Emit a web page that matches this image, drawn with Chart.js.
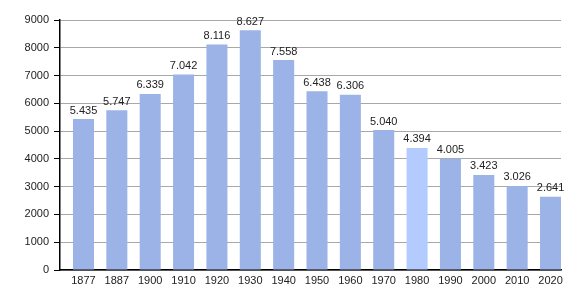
<!DOCTYPE html>
<html>
<head>
<meta charset="utf-8">
<script src="https://cdn.jsdelivr.net/npm/chart.js@4/dist/chart.umd.min.js"></script>
<style>
html,body{margin:0;padding:0;background:#fff;}
#wrap{width:580px;height:300px;position:relative;}
</style>
</head>
<body>
<div id="wrap"><canvas id="c" width="580" height="300"></canvas></div>
<script>
const years = ["1877","1887","1900","1910","1920","1930","1940","1950","1960","1970","1980","1990","2000","2010","2020"];
const population = [5435,5747,6339,7042,8116,8627,7558,6438,6306,5040,4394,4005,3423,3026,2641];
const valueLabels = ["5.435","5.747","6.339","7.042","8.116","8.627","7.558","6.438","6.306","5.040","4.394","4.005","3.423","3.026","2.641"];
const highlightYear = "1980";
const yTicks = [0,1000,2000,3000,4000,5000,6000,7000,8000,9000];

const barColor = "#9bb3e6";
const highlightColor = "#b3cbff";

const labelPlugin = {
  id: 'valueLabels',
  afterDatasetsDraw(chart) {
    const ctx = chart.ctx;
    const meta = chart.getDatasetMeta(0);
    ctx.save();
    ctx.font = '11px "Liberation Sans", Arial, sans-serif';
    ctx.fillStyle = '#222';
    ctx.textAlign = 'center';
    ctx.textBaseline = 'bottom';
    meta.data.forEach((bar, i) => {
      ctx.fillText(valueLabels[i], bar.x, bar.y - 3);
    });
    ctx.restore();
  }
};

const minorTickPlugin = {
  id: 'minorTicks',
  afterDraw(chart) {
    const y = chart.scales.y;
    const ctx = chart.ctx;
    const left = chart.chartArea.left;
    ctx.save();
    ctx.strokeStyle = '#000';
    ctx.lineWidth = 1;
    y.ticks.forEach(t => {
      if (!yTicks.includes(t.value)) {
        const py = Math.round(y.getPixelForValue(t.value)) + 0.5;
        ctx.beginPath();
        ctx.moveTo(left - 3, py);
        ctx.lineTo(left, py);
        ctx.stroke();
      }
    });
    ctx.restore();
  }
};

const points = population.map((v, i) => ({ x: i, y: v }));

new Chart(document.getElementById('c'), {
  type: 'bar',
  data: {
    datasets: [{
      data: points,
      backgroundColor: years.map(y => y === highlightYear ? highlightColor : barColor),
      borderWidth: 0,
      barPercentage: 0.63,
      categoryPercentage: 1.0
    }]
  },
  options: {
    responsive: false,
    animation: false,
    devicePixelRatio: 1,
    layout: { padding: { left: 0, right: 19, top: 20, bottom: 0 } },
    plugins: { legend: { display: false }, tooltip: { enabled: false } },
    scales: {
      x: {
        type: 'linear',
        offset: false,
        min: -0.704,
        max: 14.314,
        afterBuildTicks(scale) { scale.ticks = years.map((y, i) => ({ value: i })); },
        grid: { display: false, drawTicks: false },
        border: { display: true, color: '#000', width: 1.5 },
        ticks: {
          color: '#222',
          font: { family: '"Liberation Sans", Arial, sans-serif', size: 11 },
          padding: 4, maxRotation: 0, autoSkip: false,
          callback: (v) => years[v] ?? ''
        },
        afterFit(scale) { scale.height = 30; }
      },
      y: {
        min: 0, max: 9000,
        ticks: {
          stepSize: 500,
          color: '#222',
          font: { family: '"Liberation Sans", Arial, sans-serif', size: 11 },
          padding: 5,
          callback: (v) => (yTicks.includes(v) ? String(v) : '')
        },
        grid: {
          color: (c) => (c.tick && c.tick.value % 1000 === 0 ? '#a8a8a8' : '#e2e2e2'),
          tickColor: (c) => (c.tick && c.tick.value % 1000 === 0 ? '#000' : 'rgba(0,0,0,0)'),
          tickLength: 6,
          lineWidth: 1
        },
        border: { display: true, color: '#000', width: 1.5 },
        afterFit(scale) { scale.width = 60; }
      }
    }
  },
  plugins: [labelPlugin, minorTickPlugin]
});
</script>
</body>
</html>
